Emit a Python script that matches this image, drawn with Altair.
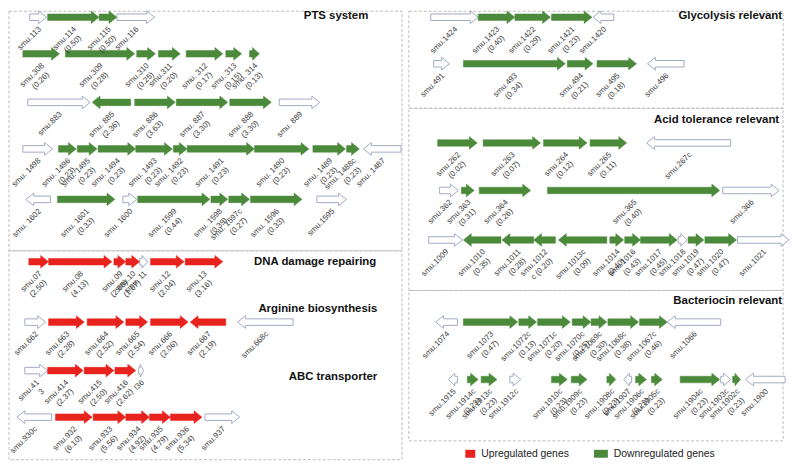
import altair as alt
import pandas as pd

# ---------------- data ----------------
# Each gene: (locus tag, fold-change label, start, end, strand, regulation)
PTS_1 = [
    ("smu.113", "", 30, 47, "+", "none"),
    ("smu.114", "(0.50)", 48, 100, "+", "down"),
    ("smu.115", "(0.50)", 100, 118, "+", "down"),
    ("smu.116", "", 118, 156, "+", "none"),
]
PTS_2 = [
    ("smu.308", "(0.26)", 23, 60, "+", "down"),
    ("smu.309", "(0.28)", 66, 136, "+", "down"),
    ("smu.310", "(0.25)", 138, 157, "+", "down"),
    ("smu.311", "(0.20)", 160, 182, "+", "down"),
    ("smu. 312", "(0.17)", 188, 225, "+", "down"),
    ("smu. 313", "(0.15)", 228, 244, "+", "down"),
    ("smu. 314", "(0.13)", 252, 262, "+", "down"),
]
PTS_3 = [
    ("smu.883", "", 28, 91, "+", "none"),
    ("smu. 885", "(2.36)", 93, 132, "-", "down"),
    ("smu. 886", "(3.63)", 136, 177, "+", "down"),
    ("smu. 887", "(3.30)", 178, 230, "+", "down"),
    ("smu. 888", "(3.30)", 232, 274, "+", "down"),
    ("smu. 889", "", 282, 323, "+", "none"),
]
PTS_4 = [
    ("smu. 1498", "", 23, 53, "+", "none"),
    ("smu. 1496", "(0.23)", 59, 77, "+", "down"),
    ("smu. 1495", "(0.23)", 78, 98, "+", "down"),
    ("smu. 1494", "(0.23)", 99, 137, "+", "down"),
    ("smu. 1493", "(0.23)", 137, 174, "+", "down"),
    ("smu. 1492", "(0.23)", 175, 189, "+", "down"),
    ("smu. 1491", "(0.23)", 189, 257, "+", "down"),
    ("smu. 1490", "(0.23)", 257, 312, "+", "down"),
    ("smu. 1489", "(0.23)", 316, 349, "+", "down"),
    ("smu. 1488c", "(0.23)", 350, 363, "+", "down"),
    ("smu. 1487", "", 367, 405, "-", "none"),
]
PTS_5 = [
    ("smu. 1602", "", 26, 51, "-", "none"),
    ("smu. 1601", "(0.33)", 58, 116, "+", "down"),
    ("smu. 1600", "", 124, 138, "+", "none"),
    ("smu. 1599", "(0.44)", 139, 212, "+", "down"),
    ("smu. 1598", "(0.39)", 213, 230, "+", "down"),
    ("smu. 1597c", "(0.27)", 231, 252, "+", "down"),
    ("smu. 1596", "(0.33)", 253, 305, "+", "down"),
    ("smu.1595", "", 320, 350, "+", "none"),
]
DNA_1 = [
    ("smu.07", "(2.50)", 29, 49, "+", "up"),
    ("smu.08", "(4.13)", 49, 113, "+", "up"),
    ("smu.09", "(2.68)", 115, 127, "+", "up"),
    ("smu.10", "(1.67)", 127, 141, "+", "up"),
    ("smu. 11", "", 141, 149, "+", "none"),
    ("smu.12", "(2.04)", 152, 186, "+", "up"),
    ("smu.13", "(3.16)", 187, 225, "+", "up"),
]
ARG_1 = [
    ("smu.662", "", 25, 46, "+", "none"),
    ("smu.663", "(2.28)", 49, 85, "+", "up"),
    ("smu.664", "(2.52)", 88, 125, "+", "up"),
    ("smu.665", "(2.54)", 127, 149, "+", "up"),
    ("smu.666", "(2.06)", 152, 190, "+", "up"),
    ("smu.667", "(2.19)", 192, 228, "-", "up"),
    ("smu.668c", "", 240, 296, "-", "none"),
]
ABC_1 = [
    ("smu.41", "3", 25, 48, "+", "none"),
    ("smu.414", "(2.37)", 48, 84, "+", "up"),
    ("smu.415", "(2.50)", 85, 115, "+", "up"),
    ("smu.416", "(2.62)", 116, 137, "+", "up"),
    ("l36", "", 140, 145, "+", "none"),
]
ABC_2 = [
    ("smu.930c", "", 17, 52, "-", "none"),
    ("smu.932", "(6.10)", 56, 93, "+", "up"),
    ("smu.933", "(5.56)", 94, 127, "+", "up"),
    ("smu.934", "(4.92)", 127, 151, "+", "up"),
    ("smu.935", "(4.79)", 151, 172, "+", "up"),
    ("smu.936", "(5.34)", 172, 204, "+", "up"),
    ("smu.937", "", 207, 242, "+", "none"),
]
GLY_1 = [
    ("smu.1424", "", 435, 483, "+", "none"),
    ("smu.1423", "(0.40)", 483, 520, "+", "down"),
    ("smu.1422", "(0.29)", 520, 556, "+", "down"),
    ("smu.1421", "(0.23)", 557, 598, "+", "down"),
    ("smu.1420", "", 599, 620, "-", "none"),
]
GLY_2 = [
    ("smu.491", "", 438, 454, "+", "none"),
    ("smu.493", "(0.34)", 468, 571, "+", "down"),
    ("smu.494", "(0.21)", 573, 599, "+", "down"),
    ("smu.495", "(0.18)", 603, 643, "+", "down"),
    ("smu.496", "", 654, 691, "-", "none"),
]
ACID_1 = [
    ("smu.262", "(0.02)", 442, 482, "+", "down"),
    ("smu.263", "(0.07)", 488, 546, "+", "down"),
    ("smu.264", "(0.12)", 549, 593, "+", "down"),
    ("smu.265", "(0.11)", 596, 633, "+", "down"),
    ("smu.267c", "", 653, 738, "-", "none"),
]
ACID_2 = [
    ("smu.362", "", 444, 463, "+", "none"),
    ("smu.363", "(0.31)", 466, 479, "+", "down"),
    ("smu.364", "(0.26)", 484, 536, "+", "down"),
    ("smu.365", "(0.40)", 553, 727, "+", "down"),
    ("smu.366", "", 730, 787, "+", "none"),
]
ACID_3 = [
    ("smu.1009", "", 433, 467, "+", "none"),
    ("smu.1010", "(0.35)", 468, 506, "-", "down"),
    ("smu.1011", "(0.28)", 507, 539, "-", "down"),
    ("smu.1012", "c (0.20)", 539, 561, "-", "down"),
    ("smu.1013c", "(0.09)", 564, 613, "-", "down"),
    ("smu.1014", "(0.40)", 616, 630, "+", "down"),
    ("smu.1016", "(0.43)", 631, 647, "+", "down"),
    ("smu.1017", "(0.45)", 647, 684, "+", "down"),
    ("smu.1018", "", 685, 694, "+", "none"),
    ("smu.1019", "(0.47)", 695, 711, "+", "down"),
    ("smu.1020", "(0.47)", 712, 744, "+", "down"),
    ("smu.1021", "", 745, 797, "+", "none"),
]
BAC_1 = [
    ("smu.1074", "", 440, 462, "-", "none"),
    ("smu.1073", "(0.47)", 468, 523, "+", "down"),
    ("smu.1072c", "(0.13)", 524, 542, "+", "down"),
    ("smu.1071c", "(0.20)", 543, 576, "+", "down"),
    ("smu.1070c", "(0.25)", 578, 597, "+", "down"),
    ("smu.1069c", "(0.30)", 597, 613, "+", "down"),
    ("smu.1068c", "(0.38)", 614, 645, "+", "down"),
    ("smu.1067c", "(0.46)", 646, 674, "+", "down"),
    ("smu.1066", "", 674, 728, "-", "none"),
]
BAC_2 = [
    ("smu.1915", "", 453, 462, "-", "none"),
    ("smu.1914c", "(0.23)", 472, 483, "+", "down"),
    ("smu.1913c", "(0.23)", 486, 502, "+", "down"),
    ("smu.1912c", "", 515, 526, "+", "none"),
    ("smu.1910c", "(0.23)", 557, 573, "+", "down"),
    ("smu.1909c", "(0.23)", 577, 593, "+", "down"),
    ("smu.1908c", "(0.23)", 613, 622, "+", "down"),
    ("smu.1907", "", 630, 638, "-", "none"),
    ("smu.1906c", "(0.23)", 642, 653, "+", "down"),
    ("smu.1905c", "(0.23)", 658, 669, "+", "down"),
    ("smu.1904c", "(0.23)", 687, 727, "+", "down"),
    ("smu.1903c", "", 728, 738, "+", "none"),
    ("smu.1902c", "(0.23)", 740, 748, "+", "down"),
    ("smu.1900", "", 753, 793, "-", "none"),
]

# rows: (track baseline, genes)
ROWS = [
    (15, PTS_1), (52, PTS_2), (101, PTS_3), (148, PTS_4), (199, PTS_5),
    (262, DNA_1), (323, ARG_1), (372, ABC_1), (419, ABC_2),
    (15, GLY_1), (62, GLY_2), (142, ACID_1), (190, ACID_2), (240, ACID_3),
    (323, BAC_1), (381, BAC_2),
]

TITLES = ["PTS system", "DNA damage repairing", "Arginine biosynthesis", "ABC transporter",
          "Glycolysis relevant", "Acid tolerance relevant", "Bacteriocin relevant"]
TITLE_X = [372, 380, 381, 381, 790, 787, 790]
TITLE_Y = [14, 262, 310, 378, 14, 119, 302]

# panel frames: x1, y1, x2, y2
BOX_X1 = [9, 9, 413, 413, 413]
BOX_Y1 = [9, 251, 9, 107, 291]
BOX_X2 = [406, 406, 791, 791, 791]
BOX_Y2 = [251, 462, 107, 291, 443]

LEGEND_LABELS = ["Upregulated genes", "Downregulated genes"]
LEGEND_X = [470, 600]
LEGEND_Y = 456

RED = "#e8221c"
GREEN = "#4b8a3b"
OUTLINE = "#a2aac3"

# ---------------- build tables ----------------
SHAFT, HEAD, HEADLEN = 3.3, 6.4, 8.0

poly = []
labels = []
gid = 0
for y, genes in ROWS:
    for name, val, s, e, strand, reg in genes:
        hl = min(HEADLEN, (e - s) * 0.7)
        if strand == "+":
            b = e - hl
            pts = [(s, y - SHAFT), (b, y - SHAFT), (b, y - HEAD), (e, y), (b, y + HEAD),
                   (b, y + SHAFT), (s, y + SHAFT), (s, y - SHAFT)]
        else:
            b = s + hl
            pts = [(e, y - SHAFT), (b, y - SHAFT), (b, y - HEAD), (s, y), (b, y + HEAD),
                   (b, y + SHAFT), (e, y + SHAFT), (e, y - SHAFT)]
        for k, (px, py) in enumerate(pts):
            poly.append({"gid": gid, "o": k, "x": px, "y": py, "reg": reg})
        cx = (s + e) / 2
        labels.append({"name": name, "val": val, "nx": cx + 2, "ny": y + 11,
                       "vx": cx + 7, "vy": y + 20})
        gid += 1

poly_df = pd.DataFrame(poly)
lab_df = pd.DataFrame(labels)
box_df = pd.DataFrame({"x1": BOX_X1, "y1": BOX_Y1, "x2": BOX_X2, "y2": BOX_Y2})
title_df = pd.DataFrame({"t": TITLES, "x": TITLE_X, "y": TITLE_Y})
leg_df = pd.DataFrame({"t": LEGEND_LABELS, "x": LEGEND_X, "c": [RED, GREEN]})
leg_df["x2"] = leg_df["x"] + [10, 14]
leg_df["tx"] = leg_df["x2"] + 6
leg_df["y1"] = LEGEND_Y - 4
leg_df["y2"] = LEGEND_Y + 4
leg_df["ty"] = LEGEND_Y

xs = alt.Scale(domain=[8, 800], nice=False, zero=False)
ys = alt.Scale(domain=[8, 463], nice=False, zero=False, reverse=True)
FONT = "Liberation Sans"

boxes = alt.Chart(box_df).mark_rect(
    fill="white", fillOpacity=0, stroke="#bcbcbc", strokeWidth=1, strokeDash=[3, 2]
).encode(
    x=alt.X("x1:Q", scale=xs, axis=None), x2="x2:Q",
    y=alt.Y("y1:Q", scale=ys, axis=None), y2="y2:Q",
)


def arrows(reg, fill, stroke, sw):
    return alt.Chart(poly_df[poly_df["reg"] == reg]).mark_line(
        fill=fill, stroke=stroke, strokeWidth=sw, strokeJoin="miter", interpolate="linear"
    ).encode(
        x=alt.X("x:Q", scale=xs, axis=None),
        y=alt.Y("y:Q", scale=ys, axis=None),
        detail="gid:N",
        order="o:Q",
    )


ar_none = arrows("none", "white", OUTLINE, 1)
ar_up = arrows("up", RED, RED, 0.5)
ar_down = arrows("down", GREEN, GREEN, 0.5)

name_txt = alt.Chart(lab_df).mark_text(
    angle=315, align="right", baseline="middle", font=FONT, fontSize=8, color="#3a3a3a"
).encode(x=alt.X("nx:Q", scale=xs, axis=None), y=alt.Y("ny:Q", scale=ys, axis=None), text="name:N")

val_txt = alt.Chart(lab_df[lab_df["val"] != ""]).mark_text(
    angle=315, align="right", baseline="middle", font=FONT, fontSize=8, color="#3a3a3a"
).encode(x=alt.X("vx:Q", scale=xs, axis=None), y=alt.Y("vy:Q", scale=ys, axis=None), text="val:N")

titles = alt.Chart(title_df).mark_text(
    align="right", baseline="middle", font=FONT, fontSize=11.5, fontWeight="bold", color="#111111"
).encode(x=alt.X("x:Q", scale=xs, axis=None), y=alt.Y("y:Q", scale=ys, axis=None), text="t:N")

leg_rect = alt.Chart(leg_df).mark_rect().encode(
    x=alt.X("x:Q", scale=xs, axis=None), x2="x2:Q",
    y=alt.Y("y1:Q", scale=ys, axis=None), y2="y2:Q",
    color=alt.Color("c:N", scale=None),
)
leg_txt = alt.Chart(leg_df).mark_text(
    align="left", baseline="middle", font=FONT, fontSize=10.5, color="#222222"
).encode(x=alt.X("tx:Q", scale=xs, axis=None), y=alt.Y("ty:Q", scale=ys, axis=None), text="t:N")

chart = alt.layer(
    boxes, ar_none, ar_up, ar_down, name_txt, val_txt, titles, leg_rect, leg_txt
).properties(
    width=792, height=455, padding=0, autosize=alt.AutoSizeParams(type="none")
).configure_view(stroke=None)

chart.save("out.html", embed_options={"renderer": "svg", "actions": False})
